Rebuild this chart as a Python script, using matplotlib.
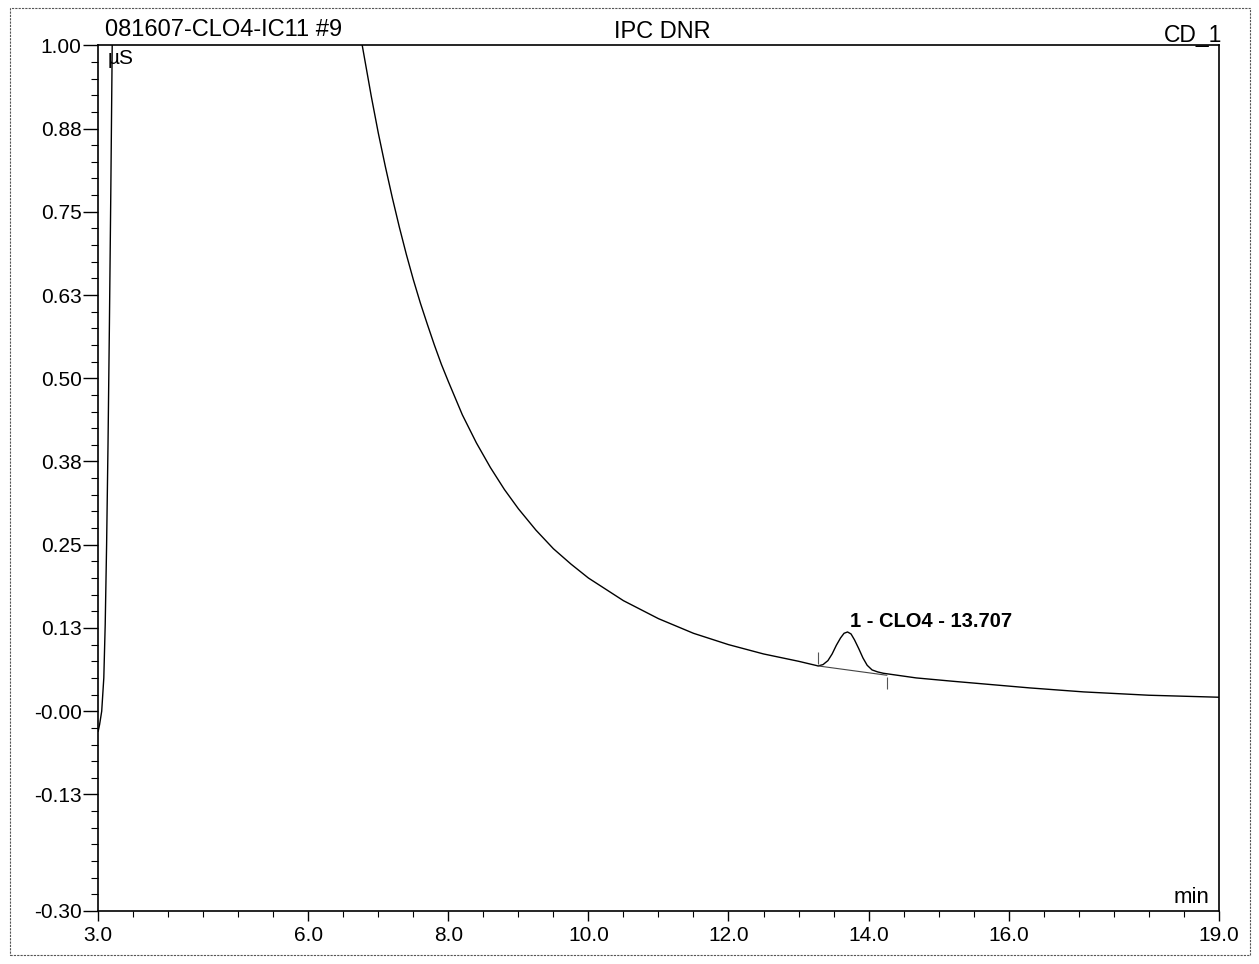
"""
Chromatogram 081607-CLO4-IC11 #9 (IPC DNR, CD_1)
Conductivity trace with the perchlorate peak at 13.707 min.
"""

import matplotlib
matplotlib.use('Agg')
import matplotlib.pyplot as plt
from matplotlib.patches import Rectangle

plt.rcParams['font.family'] = ['Liberation Sans', 'DejaVu Sans']
plt.rcParams['axes.unicode_minus'] = False

# leading edge of the off-scale system peak
rise_t = [3.00, 3.02, 3.05, 3.08, 3.10, 3.12, 3.14, 3.16, 3.18, 3.20, 3.22]
rise_v = [-0.03, -0.02, 0.00, 0.05, 0.13, 0.25, 0.40, 0.58, 0.78, 1.00, 1.20]

# tail of the system peak, the ClO4 peak and the late baseline
tail_t = [6.70, 6.77, 6.90, 7.00, 7.10, 7.20, 7.30, 7.40, 7.50, 7.60, 7.70,
          7.80, 7.90, 8.00, 8.20, 8.40, 8.60, 8.80, 9.00, 9.25, 9.50, 9.75,
          10.00, 10.50, 11.00, 11.50, 12.00, 12.50, 13.00,
          13.28, 13.35, 13.42, 13.48, 13.54, 13.60, 13.65, 13.70, 13.75,
          13.80, 13.86, 13.92, 13.98, 14.05, 14.13, 14.21,
          14.68, 15.20, 15.64, 16.30, 17.07, 18.00, 19.00]
tail_v = [1.044, 1.000, 0.923, 0.868, 0.818, 0.771, 0.727, 0.686, 0.648,
          0.613, 0.581, 0.550, 0.521, 0.495, 0.445, 0.403, 0.366, 0.333,
          0.304, 0.272, 0.244, 0.221, 0.200, 0.166, 0.139, 0.117, 0.100,
          0.086, 0.075,
          0.068, 0.070, 0.076, 0.086, 0.099, 0.110, 0.117, 0.119, 0.116,
          0.107, 0.094, 0.080, 0.069, 0.062, 0.059, 0.057,
          0.050, 0.045, 0.041, 0.035, 0.029, 0.024, 0.021]

# integration baseline of peak 1
base_t = [13.28, 14.26]
base_v = [0.068, 0.054]

peak_label = '1 - CLO4 - 13.707'
peak_t = 13.707

y_ticks = [1.0, 0.875, 0.75, 0.625, 0.5, 0.375, 0.25, 0.125, 0.0, -0.125, -0.30]
y_labels = ['1.00', '0.88', '0.75', '0.63', '0.50', '0.38', '0.25', '0.13',
            '-0.00', '-0.13', '-0.30']
x_ticks = [3.0, 6.0, 8.0, 10.0, 12.0, 14.0, 16.0, 19.0]
x_labels = ['3.0', '6.0', '8.0', '10.0', '12.0', '14.0', '16.0', '19.0']


def create_figure():
    fig = plt.figure(figsize=(12.59, 9.64), dpi=100)
    ax = fig.add_axes([0.078, 0.055, 0.890, 0.898])

    ax.plot(rise_t, rise_v, color='black', linewidth=1.0)
    ax.plot(tail_t, tail_v, color='black', linewidth=1.0)
    ax.plot(base_t, base_v, color='#444444', linewidth=0.8)
    # peak start / end markers
    ax.plot([base_t[0]], [base_v[0] + 0.012], marker='|', color='#555555',
            markersize=8, markeredgewidth=0.8)
    ax.plot([base_t[1]], [base_v[1] - 0.012], marker='|', color='#555555',
            markersize=8, markeredgewidth=0.8)

    ax.text(peak_t + 0.03, 0.121, peak_label, fontsize=14.5,
            fontweight='bold', ha='left', va='bottom')

    ax.set_xlim(3.0, 19.0)
    ax.set_ylim(-0.30, 1.00)

    ax.set_yticks(y_ticks)
    ax.set_yticklabels(y_labels)
    ax.set_yticks([-0.30 + 0.025 * i for i in range(53)], minor=True)
    ax.set_xticks(x_ticks)
    ax.set_xticklabels(x_labels)
    ax.set_xticks([3.0 + 0.5 * i for i in range(33)], minor=True)

    ax.tick_params(axis='y', which='major', direction='out', length=11,
                   width=1.0, pad=1, labelsize=15)
    ax.tick_params(axis='y', which='minor', direction='out', length=5,
                   width=0.8)
    ax.tick_params(axis='x', which='major', direction='out', length=7,
                   width=1.0, pad=4, labelsize=15)
    ax.tick_params(axis='x', which='minor', direction='out', length=4,
                   width=0.8)

    for sp in ax.spines.values():
        sp.set_linewidth(1.2)

    ax.text(0.008, 0.996, 'µS', transform=ax.transAxes, fontsize=15,
            ha='left', va='top')
    ax.text(0.992, 0.003, 'min', transform=ax.transAxes, fontsize=16,
            ha='right', va='bottom')

    fig.text(105 / 1259, 1 - 36 / 964, '081607-CLO4-IC11 #9', fontsize=17,
             ha='left', va='baseline')
    fig.text(662 / 1259, 1 - 38 / 964, 'IPC DNR', fontsize=17,
             ha='center', va='baseline')
    fig.text(1222 / 1259, 1 - 42 / 964, 'CD_1', fontsize=16.5,
             ha='right', va='baseline')

    # outer frame of the printed page
    fig.patches.append(Rectangle((10 / 1259, 1 - 955 / 964),
                                 1240 / 1259, 947 / 964,
                                 transform=fig.transFigure, fill=False,
                                 edgecolor='#555555', linewidth=0.8,
                                 linestyle=(0, (2, 1))))

    fig.savefig('out.png', dpi=100, facecolor='white')


if __name__ == "__main__":
    create_figure()
